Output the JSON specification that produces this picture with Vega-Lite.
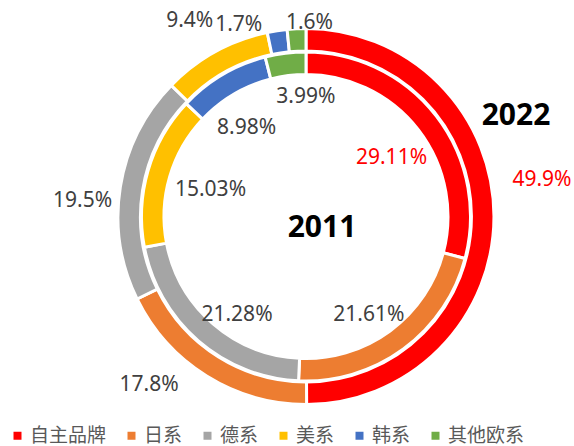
{
  "$schema": "https://vega.github.io/schema/vega-lite/v6.json",
  "width": 532,
  "height": 433,
  "autosize": {"type": "none"},
  "padding": {"left": 40, "top": 0, "right": 2, "bottom": 13},
  "background": "white",
  "config": {"view": {"stroke": null}},
  "datasets": {
    "shares": [
      {"year": "2022", "idx": 1, "brand": "自主品牌", "share": 49.9, "label": "49.9%"},
      {"year": "2022", "idx": 2, "brand": "日系", "share": 17.8, "label": "17.8%"},
      {"year": "2022", "idx": 3, "brand": "德系", "share": 19.5, "label": "19.5%"},
      {"year": "2022", "idx": 4, "brand": "美系", "share": 9.4, "label": "9.4%"},
      {"year": "2022", "idx": 5, "brand": "韩系", "share": 1.7, "label": "1.7%"},
      {"year": "2022", "idx": 6, "brand": "其他欧系", "share": 1.6, "label": "1.6%"},
      {"year": "2011", "idx": 1, "brand": "自主品牌", "share": 29.11, "label": "29.11%"},
      {"year": "2011", "idx": 2, "brand": "日系", "share": 21.61, "label": "21.61%"},
      {"year": "2011", "idx": 3, "brand": "德系", "share": 21.28, "label": "21.28%"},
      {"year": "2011", "idx": 4, "brand": "美系", "share": 15.03, "label": "15.03%"},
      {"year": "2011", "idx": 5, "brand": "韩系", "share": 8.98, "label": "8.98%"},
      {"year": "2011", "idx": 6, "brand": "其他欧系", "share": 3.99, "label": "3.99%"}
    ],
    "titles": [{"title": "2022"}, {"title": "2011"}]
  },
  "data": {"name": "shares"},
  "resolve": {"scale": {"theta": "independent"}},
  "layer": [
    {
      "transform": [{"filter": "datum.year === '2022'"}],
      "mark": {"type": "arc", "outerRadius": 188, "innerRadius": 165.5, "stroke": "white", "strokeWidth": 3},
      "encoding": {
        "theta": {"field": "share", "type": "quantitative", "stack": true},
        "order": {"field": "idx", "type": "quantitative"},
        "color": {
          "field": "brand", "type": "nominal",
          "scale": {"domain": ["自主品牌", "日系", "德系", "美系", "韩系", "其他欧系"], "range": ["#FF0000", "#ED7D31", "#A5A5A5", "#FFC000", "#4472C4", "#70AD47"]},
          "legend": {"orient": "none", "legendX": -32, "legendY": 426, "direction": "horizontal", "columns": 6, "title": null, "symbolType": "square", "symbolSize": 64, "symbolStrokeWidth": 0, "labelFont": "Noto Sans CJK SC", "labelFontSize": 19, "labelColor": "#595959", "labelOffset": 3, "columnPadding": 15}
        }
      }
    },
    {
      "transform": [{"filter": "datum.year === '2011'"}],
      "mark": {"type": "arc", "outerRadius": 164.5, "innerRadius": 142, "stroke": "white", "strokeWidth": 3},
      "encoding": {
        "theta": {"field": "share", "type": "quantitative", "stack": true},
        "order": {"field": "idx", "type": "quantitative"},
        "color": {"field": "brand", "type": "nominal", "legend": null}
      }
    },
    {
      "transform": [{"filter": "datum.year === '2022'"}],
      "mark": {"type": "text", "radius": 210, "dx": 26, "dy": -36, "font": "Noto Sans", "fontSize": 21, "fill": "#FF0000", "align": "center", "baseline": "middle"},
      "encoding": {"theta": {"field": "share", "type": "quantitative", "stack": true}, "order": {"field": "idx", "type": "quantitative"}, "text": {"condition": {"test": "datum.brand === '自主品牌'", "field": "label"}, "value": ""}}
    },
    {
      "transform": [{"filter": "datum.year === '2022'"}],
      "mark": {"type": "text", "radius": 210, "dx": -46, "dy": -10, "font": "Noto Sans", "fontSize": 21, "fill": "#404040", "align": "center", "baseline": "middle"},
      "encoding": {"theta": {"field": "share", "type": "quantitative", "stack": true}, "order": {"field": "idx", "type": "quantitative"}, "text": {"condition": {"test": "datum.brand === '日系'", "field": "label"}, "value": ""}}
    },
    {
      "transform": [{"filter": "datum.year === '2022'"}],
      "mark": {"type": "text", "radius": 210, "dx": -16, "dy": 18, "font": "Noto Sans", "fontSize": 21, "fill": "#404040", "align": "center", "baseline": "middle"},
      "encoding": {"theta": {"field": "share", "type": "quantitative", "stack": true}, "order": {"field": "idx", "type": "quantitative"}, "text": {"condition": {"test": "datum.brand === '德系'", "field": "label"}, "value": ""}}
    },
    {
      "transform": [{"filter": "datum.year === '2022'"}],
      "mark": {"type": "text", "radius": 210, "dx": -15, "dy": -12, "font": "Noto Sans", "fontSize": 21, "fill": "#404040", "align": "center", "baseline": "middle"},
      "encoding": {"theta": {"field": "share", "type": "quantitative", "stack": true}, "order": {"field": "idx", "type": "quantitative"}, "text": {"condition": {"test": "datum.brand === '美系'", "field": "label"}, "value": ""}}
    },
    {
      "transform": [{"filter": "datum.year === '2022'"}],
      "mark": {"type": "text", "radius": 210, "dx": -35, "dy": 16, "font": "Noto Sans", "fontSize": 21, "fill": "#404040", "align": "center", "baseline": "middle"},
      "encoding": {"theta": {"field": "share", "type": "quantitative", "stack": true}, "order": {"field": "idx", "type": "quantitative"}, "text": {"condition": {"test": "datum.brand === '韩系'", "field": "label"}, "value": ""}}
    },
    {
      "transform": [{"filter": "datum.year === '2022'"}],
      "mark": {"type": "text", "radius": 210, "dx": 14, "dy": 16, "font": "Noto Sans", "fontSize": 21, "fill": "#404040", "align": "center", "baseline": "middle"},
      "encoding": {"theta": {"field": "share", "type": "quantitative", "stack": true}, "order": {"field": "idx", "type": "quantitative"}, "text": {"condition": {"test": "datum.brand === '其他欧系'", "field": "label"}, "value": ""}}
    },
    {
      "transform": [{"filter": "datum.year === '2011'"}],
      "mark": {"type": "text", "radius": 113, "dx": -4, "dy": 10, "font": "Noto Sans", "fontSize": 21, "fill": "#FF0000", "align": "center", "baseline": "middle"},
      "encoding": {"theta": {"field": "share", "type": "quantitative", "stack": true}, "order": {"field": "idx", "type": "quantitative"}, "text": {"condition": {"test": "datum.brand === '自主品牌'", "field": "label"}, "value": ""}}
    },
    {
      "transform": [{"filter": "datum.year === '2011'"}],
      "mark": {"type": "text", "radius": 113, "dx": -4, "dy": 7, "font": "Noto Sans", "fontSize": 21, "fill": "#404040", "align": "center", "baseline": "middle"},
      "encoding": {"theta": {"field": "share", "type": "quantitative", "stack": true}, "order": {"field": "idx", "type": "quantitative"}, "text": {"condition": {"test": "datum.brand === '日系'", "field": "label"}, "value": ""}}
    },
    {
      "transform": [{"filter": "datum.year === '2011'"}],
      "mark": {"type": "text", "radius": 113, "dx": 5, "dy": 13, "font": "Noto Sans", "fontSize": 21, "fill": "#404040", "align": "center", "baseline": "middle"},
      "encoding": {"theta": {"field": "share", "type": "quantitative", "stack": true}, "order": {"field": "idx", "type": "quantitative"}, "text": {"condition": {"test": "datum.brand === '德系'", "field": "label"}, "value": ""}}
    },
    {
      "transform": [{"filter": "datum.year === '2011'"}],
      "mark": {"type": "text", "radius": 113, "dx": 13, "dy": 5, "font": "Noto Sans", "fontSize": 21, "fill": "#404040", "align": "center", "baseline": "middle"},
      "encoding": {"theta": {"field": "share", "type": "quantitative", "stack": true}, "order": {"field": "idx", "type": "quantitative"}, "text": {"condition": {"test": "datum.brand === '美系'", "field": "label"}, "value": ""}}
    },
    {
      "transform": [{"filter": "datum.year === '2011'"}],
      "mark": {"type": "text", "radius": 113, "dx": -2, "dy": 9, "font": "Noto Sans", "fontSize": 21, "fill": "#404040", "align": "center", "baseline": "middle"},
      "encoding": {"theta": {"field": "share", "type": "quantitative", "stack": true}, "order": {"field": "idx", "type": "quantitative"}, "text": {"condition": {"test": "datum.brand === '韩系'", "field": "label"}, "value": ""}}
    },
    {
      "transform": [{"filter": "datum.year === '2011'"}],
      "mark": {"type": "text", "radius": 113, "dx": 14, "dy": -7, "font": "Noto Sans", "fontSize": 21, "fill": "#404040", "align": "center", "baseline": "middle"},
      "encoding": {"theta": {"field": "share", "type": "quantitative", "stack": true}, "order": {"field": "idx", "type": "quantitative"}, "text": {"condition": {"test": "datum.brand === '其他欧系'", "field": "label"}, "value": ""}}
    },
    {
      "data": {"name": "titles"},
      "transform": [{"filter": "datum.title === '2022'"}],
      "mark": {"type": "text", "dx": 210, "dy": -100.5, "font": "Noto Sans", "fontSize": 30, "fontWeight": "bold", "fill": "#000000", "align": "center", "baseline": "middle"},
      "encoding": {"text": {"field": "title"}}
    },
    {
      "data": {"name": "titles"},
      "transform": [{"filter": "datum.title === '2011'"}],
      "mark": {"type": "text", "dx": 16, "dy": 11.5, "font": "Noto Sans", "fontSize": 30, "fontWeight": "bold", "fill": "#000000", "align": "center", "baseline": "middle"},
      "encoding": {"text": {"field": "title"}}
    }
  ]
}
